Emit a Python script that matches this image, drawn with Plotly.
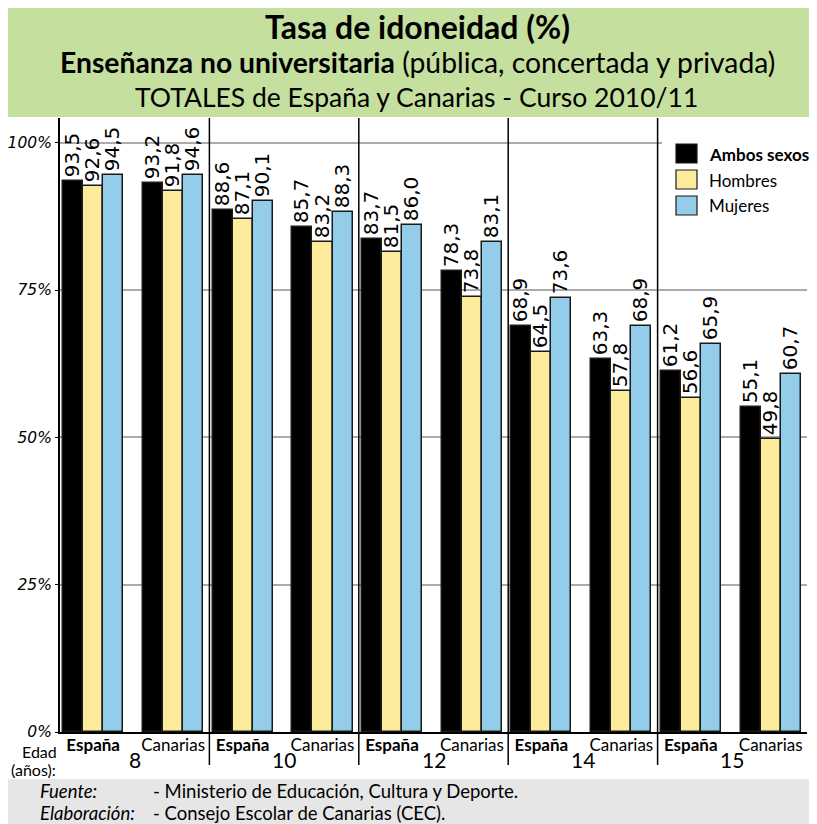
import plotly.graph_objects as go

# ---------------- data ----------------
ages = ["8", "10", "12", "14", "15"]
regions = ["España", "Canarias"]
series_names = ["Ambos sexos", "Hombres", "Mujeres"]
# order: (8 España, 8 Canarias, 10 España, 10 Canarias, ...)
ambos = [93.5, 93.2, 88.6, 85.7, 83.7, 78.3, 68.9, 63.3, 61.2, 55.1]
hombres = [92.6, 91.8, 87.1, 83.2, 81.5, 73.8, 64.5, 57.8, 56.6, 49.8]
mujeres = [94.5, 94.6, 90.1, 88.3, 86.0, 83.1, 73.6, 68.9, 65.9, 60.7]
y_ticks = [0, 25, 50, 75, 100]
y_tick_labels = ["0%", "25%", "50%", "75%", "100%"]

colors = ["#000000", "#FBEB9B", "#93CDE9"]
CAL = "Lato, Carlito, Liberation Sans"
DV = "DejaVu Sans"

# ---------------- layout geometry ----------------
OFF = 8                      # page body margin of the browser
W, H = 817 - OFF, 824 - OFF
PL, PR, PT, PB = 60, 807, 118, 732   # plot area in reference pixels
ML, MT = PL - OFF, PT - OFF
MR, MB = W - (PR - OFF), H - (PB - OFF)
PW, PH = PR - PL, PB - PT
sub_off = [0.222, 0.757]   # position of each region inside an age group
bw = 0.134                 # bar width (group units)

def px(xp):
    return (xp - PL) / PW

def py(yp):
    return (PB - yp) / PH

def note(x, y, text, size, xanchor="center", xref="paper", **kw):
    return dict(xref=xref, yref="paper", x=x, y=y, xanchor=xanchor, yanchor="middle",
                showarrow=False, text=text, font=dict(family=CAL, size=size, color="black"), **kw)

xpos = [g + sub_off[s] for g in range(len(ages)) for s in range(len(regions))]

fig = go.Figure()
for i, (name, vals) in enumerate(zip(series_names, [ambos, hombres, mujeres])):
    fig.add_trace(go.Bar(
        x=xpos, y=vals, name=name,
        width=bw, offset=-1.5 * bw + i * bw,
        marker=dict(color=colors[i], line=dict(color="#1a1a1a", width=1.5)),
        text=[f"{v:.1f}".replace(".", ",") for v in vals],
        textposition="outside", textangle=-90, constraintext="none",
        textfont=dict(family=DV, size=20, color="black"),
        cliponaxis=False, showlegend=False,
    ))

shapes = []
# header and footer boxes
shapes.append(dict(type="rect", xref="paper", yref="paper", x0=px(8), x1=px(830),
                   y0=py(8), y1=py(117), fillcolor="#C5DF9F", line=dict(width=0), layer="below"))
shapes.append(dict(type="rect", xref="paper", yref="paper", x0=px(8), x1=px(830),
                   y0=py(779), y1=py(830), fillcolor="#E6E6E6", line=dict(width=0), layer="below"))
# group separators
for g in range(1, len(ages)):
    shapes.append(dict(type="line", xref="x", yref="paper", x0=g, x1=g, y0=py(765), y1=1,
                       line=dict(color="black", width=1.5)))
# legend background and swatches
shapes.append(dict(type="rect", xref="paper", yref="paper", x0=px(662), x1=px(830),
                   y0=py(226), y1=py(128), fillcolor="white", line=dict(width=0), layer="above"))
ann = []
for i, name in enumerate(series_names):
    top = 144 + i * 26
    shapes.append(dict(type="rect", xref="paper", yref="paper", x0=px(676), x1=px(697),
                       y0=py(top + 19), y1=py(top), fillcolor=colors[i],
                       line=dict(color="#1a1a1a", width=1.2), layer="above"))
    ann.append(note(px(707), py(top + 10), f"<b>{name}</b>" if i == 0 else name, 17, xanchor="left"))

# header text
ann.append(note(px(417), py(27), "<b>Tasa de idoneidad (%)</b>", 32))
ann.append(note(px(417), py(62), "<b>Enseñanza no universitaria</b> (pública, concertada y privada)", 28.3))
ann.append(note(px(416), py(97), "TOTALES de España y Canarias - Curso 2010/11", 26.5))
# age labels
for g, a in enumerate(ages):
    ann.append(note(g + 0.5, py(759), a, 21, xref="x"))
ann.append(note(px(39), py(751), "Edad", 16))
ann.append(note(px(34), py(769), "(años):", 16))
# footer
ann.append(note(px(38), py(791), "<i>Fuente:</i>", 18.5, xanchor="left"))
ann.append(note(px(151), py(791), "- Ministerio de Educación, Cultura y Deporte.", 18.5, xanchor="left"))
ann.append(note(px(38), py(813), "<i>Elaboración:</i>", 18.5, xanchor="left"))
ann.append(note(px(151), py(813), "- Consejo Escolar de Canarias (CEC).", 18.5, xanchor="left"))

fig.update_layout(
    width=W, height=H, autosize=False,
    margin=dict(l=ML, r=MR, t=MT, b=MB, pad=0),
    paper_bgcolor="white", plot_bgcolor="white",
    barmode="overlay", bargap=0,
    shapes=shapes, annotations=ann,
    xaxis=dict(range=[0, len(ages)], tickmode="array", tickvals=xpos, automargin=False,
               ticktext=[f"<b>{r}</b>" if r == "España" else r for _ in ages for r in regions],
               tickfont=dict(family=CAL, size=17, color="black"), ticks="", showgrid=False,
               ticklabelstandoff=-3,
               zeroline=False, showline=True, linecolor="black", linewidth=2),
    yaxis=dict(range=[0, 104.2], tickmode="array", tickvals=y_ticks, ticktext=y_tick_labels,
               automargin=False,
               tickfont=dict(family=DV, size=15.5, color="black", style="italic"),
               ticks="outside", ticklen=3, tickcolor="black",
               showgrid=True, gridcolor="#ABABAB", gridwidth=2,
               zeroline=False, showline=True, linecolor="black", linewidth=2),
)

fig.write_html("out.html")
